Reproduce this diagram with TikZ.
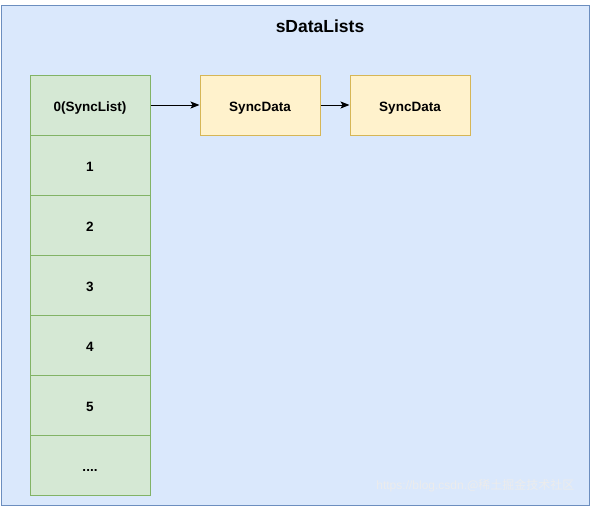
\documentclass[tikz,border=0pt]{standalone}
\usepackage{fontspec}
\setmainfont{Liberation Sans}
\newfontfamily\cjk{Noto Sans CJK SC}
\usetikzlibrary{arrows.meta}
\definecolor{bluefill}{HTML}{DAE8FC}
\definecolor{blueline}{HTML}{6C8EBF}
\definecolor{greenfill}{HTML}{D5E8D4}
\definecolor{greenline}{HTML}{82B366}
\definecolor{yellowfill}{HTML}{FFF2CC}
\definecolor{yellowline}{HTML}{D6B656}
\tikzset{
  boxtext/.style={minimum width=120pt, minimum height=60pt, inner sep=0pt, line width=1pt, text height=12pt, text depth=0pt, font=\fontsize{13.5}{15}\selectfont\bfseries},
  cell/.style={boxtext, draw=greenline, fill=greenfill},
  databox/.style={boxtext, draw=yellowline, fill=yellowfill},
  link/.style={-{Stealth[length=9pt,width=7pt,inset=2pt]}, line width=1pt}
}
\begin{document}
\begin{tikzpicture}[x=1pt,y=-1pt]
\useasboundingbox (0,0) rectangle (591,506);
\fill[white] (0,0) rectangle (591,506);
\node[draw=blueline, fill=bluefill, line width=1pt, minimum width=588pt, minimum height=500pt, inner sep=0pt] (outer) at (295,255) {};
\node[font=\fontsize{17.5}{20}\selectfont\bfseries] (title) at (320,26) {sDataLists};
\node[cell] (c0) at (90,105) {0(SyncList)};
\node[cell] (c1) at (90,165) {1};
\node[cell] (c2) at (90,225) {2};
\node[cell] (c3) at (90,285) {3};
\node[cell] (c4) at (90,345) {4};
\node[cell] (c5) at (90,405) {5};
\node[cell] (c6) at (90,465) {....};
\node[databox] (d1) at (260,105) {SyncData};
\node[databox] (d2) at (410,105) {SyncData};
\draw[link] (c0) -- (d1);
\draw[link] (d1) -- (d2);
\node[anchor=east, text=white!85!gray, font=\fontsize{12}{14}\selectfont] (wm) at (578,486) {https://blog.csdn.{\cjk @稀土掘金技术社区}};
\end{tikzpicture}
\end{document}
